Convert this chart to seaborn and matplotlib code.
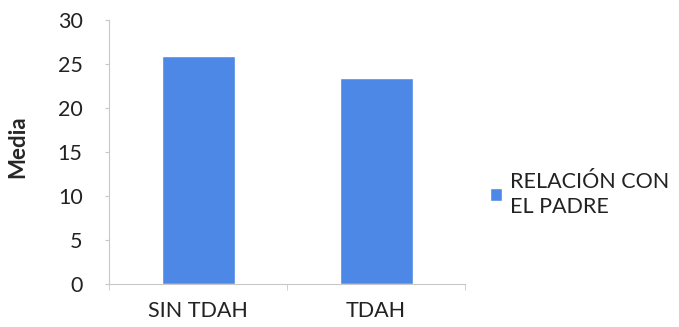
import matplotlib
matplotlib.use("Agg")
import matplotlib.pyplot as plt
import seaborn as sns
import pandas as pd

# values
grupos = ["SIN TDAH", "TDAH"]
medias = [25.9, 23.4]
serie = "RELACIÓN CON\nEL PADRE"
y_ticks = [0, 5, 10, 15, 20, 25, 30]

sns.set_style("white")
plt.rcParams["font.family"] = ["Lato", "DejaVu Sans"]

df = pd.DataFrame({"grupo": grupos, "media": medias, "serie": serie})

fig = plt.figure(figsize=(6.79, 3.27), dpi=100)
ax = fig.add_axes([0.1605, 0.1315, 0.5245, 0.8075])

sns.barplot(data=df, x="grupo", y="media", hue="serie", palette=["#4d88e6"],
            width=0.41, saturation=1, ax=ax)

ax.set_ylim(0, 30)
ax.set_xlim(-0.5, 1.5)
ax.set_yticks(y_ticks)
ax.set_xlabel("")
ax.set_ylabel("Media", fontsize=16, fontweight="bold")
ax.yaxis.set_label_coords(-0.228, 0.52)

for s in ["top", "right"]:
    ax.spines[s].set_visible(False)
for s in ["left", "bottom"]:
    ax.spines[s].set_color("#c8c8c8")
    ax.spines[s].set_linewidth(0.8)

ax.tick_params(axis="y", direction="out", length=3, color="#c8c8c8",
               labelsize=15.5, labelcolor="#222222", left=True, pad=16)
ax.tick_params(axis="x", which="major", length=0, labelsize=15.5,
               labelcolor="#222222", pad=12)
ax.set_xticks([-0.5, 0.5, 1.5], minor=True)
ax.tick_params(axis="x", which="minor", direction="out", length=4,
               color="#c8c8c8", bottom=True)

leg = ax.legend(loc="center left", bbox_to_anchor=(1.07, 0.34), frameon=False,
                fontsize=15.5, handlelength=0.55, handleheight=0.55,
                handletextpad=0.4, borderpad=0, borderaxespad=0,
                labelcolor="#222222")
for t in leg.get_texts():
    t.set_linespacing(1.3)

fig.savefig("out.png", dpi=100)
